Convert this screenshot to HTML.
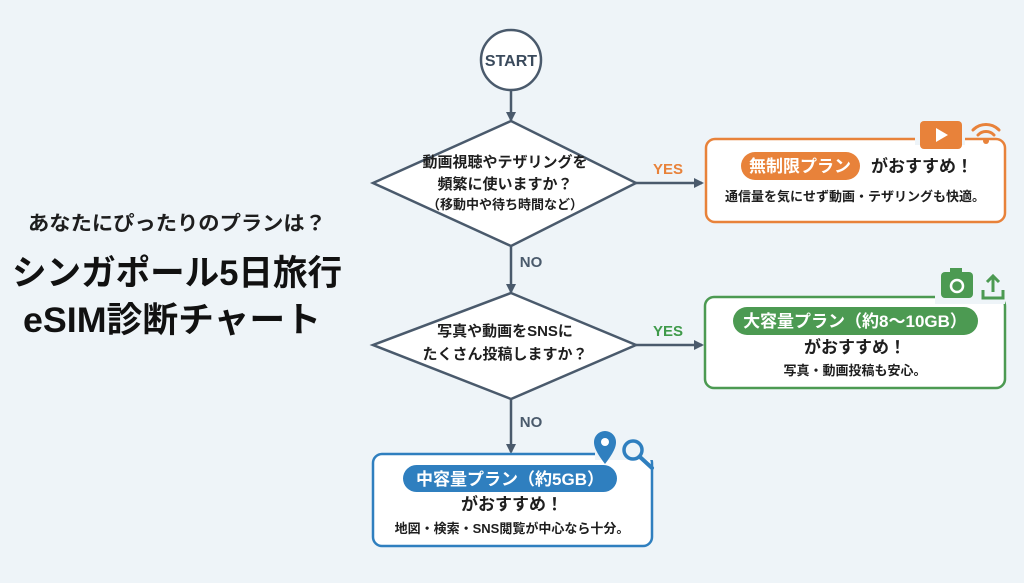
<!DOCTYPE html>
<html><head><meta charset="utf-8"><style>
html,body{margin:0;padding:0;background:#eef4f8;}
svg{display:block;}
text{font-family:"Liberation Sans","Noto Sans CJK JP",sans-serif;font-weight:bold;}
</style></head><body>
<svg width="1024" height="583" viewBox="0 0 1024 583" xmlns="http://www.w3.org/2000/svg">
<defs>
<marker id="ar" markerWidth="10" markerHeight="10" refX="8" refY="5" orient="auto" markerUnits="userSpaceOnUse">
<path d="M0,0 L10,5 L0,10 z" fill="#4a5a6c"/></marker>
</defs>
<rect width="1024" height="583" fill="#eef4f8"/>
<!-- title -->
<text x="177" y="230" font-size="20" text-anchor="middle" fill="#1e1e1e" textLength="298" lengthAdjust="spacingAndGlyphs">あなたにぴったりのプランは？</text>
<text x="177" y="285" font-size="35" text-anchor="middle" fill="#111" textLength="330" lengthAdjust="spacingAndGlyphs">シンガポール5日旅行</text>
<text x="172" y="332" font-size="35" text-anchor="middle" fill="#111" textLength="298" lengthAdjust="spacingAndGlyphs">eSIM診断チャート</text>
<!-- start -->
<circle cx="511" cy="60" r="30" fill="#fff" stroke="#4a5a6c" stroke-width="2.5"/>
<text x="511" y="66" font-size="16" text-anchor="middle" fill="#3a4a5c">START</text>
<line x1="511" y1="90" x2="511" y2="120" stroke="#4a5a6c" stroke-width="2.5" marker-end="url(#ar)"/>
<!-- diamond 1 -->
<polygon points="511,121 636,183 511,246 373,183" fill="#fff" stroke="#4a5a6c" stroke-width="2.5"/>
<text x="505" y="167" font-size="15" text-anchor="middle" fill="#1e1e1e">動画視聴やテザリングを</text>
<text x="505" y="189" font-size="15" text-anchor="middle" fill="#1e1e1e">頻繁に使いますか？</text>
<text x="505" y="209" font-size="13" text-anchor="middle" fill="#1e1e1e">（移動中や待ち時間など）</text>
<line x1="636" y1="183" x2="702" y2="183" stroke="#4a5a6c" stroke-width="2.5" marker-end="url(#ar)"/>
<text x="668" y="174" font-size="15" text-anchor="middle" fill="#e8823a">YES</text>
<text x="531" y="267" font-size="15" text-anchor="middle" fill="#4a5a6c">NO</text>
<line x1="511" y1="246" x2="511" y2="292" stroke="#4a5a6c" stroke-width="2.5" marker-end="url(#ar)"/>
<!-- diamond 2 -->
<polygon points="511,293 636,345 511,399 373,345" fill="#fff" stroke="#4a5a6c" stroke-width="2.5"/>
<text x="505" y="336" font-size="15" text-anchor="middle" fill="#1e1e1e">写真や動画をSNSに</text>
<text x="505" y="359" font-size="15" text-anchor="middle" fill="#1e1e1e">たくさん投稿しますか？</text>
<line x1="636" y1="345" x2="702" y2="345" stroke="#4a5a6c" stroke-width="2.5" marker-end="url(#ar)"/>
<text x="668" y="336" font-size="15" text-anchor="middle" fill="#3f9a4a">YES</text>
<text x="531" y="427" font-size="15" text-anchor="middle" fill="#4a5a6c">NO</text>
<line x1="511" y1="399" x2="511" y2="452" stroke="#4a5a6c" stroke-width="2.5" marker-end="url(#ar)"/>
<!-- box 1 orange -->
<rect x="706" y="139" width="299" height="83" rx="9" fill="#fff" stroke="#e8823a" stroke-width="2.5"/>
<rect x="915" y="131" width="50" height="14" fill="#eef4f8"/>
<rect x="920" y="121" width="42" height="28" rx="4" fill="#e8823a"/>
<path d="M936,128 L948,135 L936,142 z" fill="#fff"/>
<g fill="none" stroke="#e8823a" stroke-width="3" stroke-linecap="round">
<path d="M973,130 a18,18 0 0 1 26,0"/><path d="M978,135 a11,11 0 0 1 16,0"/></g>
<circle cx="986" cy="141" r="3" fill="#e8823a"/>
<rect x="741" y="152" width="119" height="28" rx="14" fill="#e8823a"/>
<text x="800" y="172" font-size="17" text-anchor="middle" fill="#fff">無制限プラン</text>
<text x="922" y="172" font-size="17" text-anchor="middle" fill="#1e1e1e">がおすすめ！</text>
<text x="855" y="201" font-size="13" text-anchor="middle" fill="#1e1e1e">通信量を気にせず動画・テザリングも快適。</text>
<!-- box 2 green -->
<rect x="705" y="297" width="300" height="91" rx="9" fill="#fff" stroke="#4c9a52" stroke-width="2.5"/>
<rect x="935" y="288" width="70" height="16" fill="#eef4f8"/>
<rect x="941" y="272" width="32" height="26" rx="4" fill="#4c9a52"/>
<rect x="950" y="268" width="12" height="6" fill="#4c9a52"/>
<circle cx="957" cy="286" r="6" fill="none" stroke="#fff" stroke-width="2.5"/>
<g fill="none" stroke="#4c9a52" stroke-width="3"><path d="M983,290 v8 h20 v-8"/><path d="M993,292 v-16 M987,282 l6,-6 l6,6"/></g>
<rect x="733" y="307" width="245" height="28" rx="14" fill="#4c9a52"/>
<text x="855" y="327" font-size="17" text-anchor="middle" fill="#fff">大容量プラン（約8〜10GB）</text>
<text x="855" y="353" font-size="17" text-anchor="middle" fill="#1e1e1e">がおすすめ！</text>
<text x="855" y="375" font-size="13" text-anchor="middle" fill="#1e1e1e">写真・動画投稿も安心。</text>
<!-- box 3 blue -->
<rect x="373" y="454" width="279" height="92" rx="9" fill="#fff" stroke="#2f7fbf" stroke-width="2.5"/>
<rect x="595" y="444" width="62" height="16" fill="#eef4f8"/>
<path d="M605,464 C596,452 594,447 594,442 a11,11 0 0 1 22,0 C616,447 614,452 605,464 z" fill="#2f7fbf"/>
<circle cx="605" cy="442" r="4" fill="#fff"/>
<circle cx="633" cy="450" r="9" fill="none" stroke="#2f7fbf" stroke-width="3.5"/>
<line x1="640" y1="457" x2="652" y2="468" stroke="#2f7fbf" stroke-width="4" stroke-linecap="round"/>
<rect x="403" y="465" width="214" height="27" rx="13.5" fill="#2f7fbf"/>
<text x="510" y="485" font-size="17" text-anchor="middle" fill="#fff">中容量プラン（約5GB）</text>
<text x="512" y="510" font-size="17" text-anchor="middle" fill="#1e1e1e">がおすすめ！</text>
<text x="512" y="533" font-size="13" text-anchor="middle" fill="#1e1e1e">地図・検索・SNS閲覧が中心なら十分。</text>
</svg>
</body></html>
